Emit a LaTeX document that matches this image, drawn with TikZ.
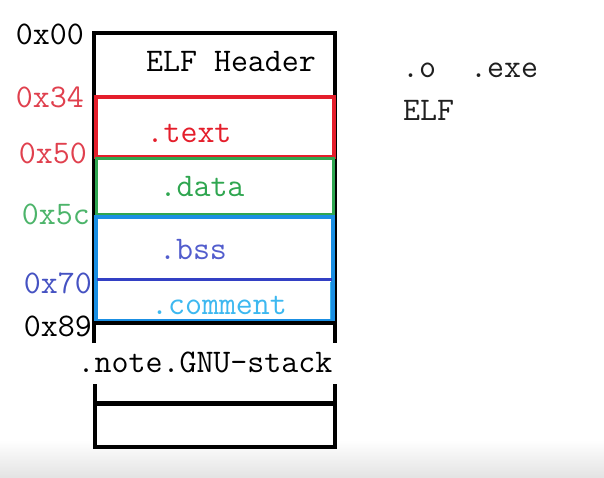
\documentclass[tikz,border=0pt]{standalone}
\usepackage{xcolor}
\usetikzlibrary{positioning}
\definecolor{secred}{HTML}{E41E2B}
\definecolor{lblred}{HTML}{E0404E}
\definecolor{secgreen}{HTML}{2FA650}
\definecolor{lblgreen}{HTML}{4CB46A}
\definecolor{secazure}{HTML}{1A8FE3}
\definecolor{secblue}{HTML}{3340C4}
\definecolor{lblblue}{HTML}{4552C2}
\definecolor{seccyan}{HTML}{3DB8F0}

\begin{document}
\begin{tikzpicture}[x=1pt, y=-1pt,
    lbl/.style={font=\fontsize{33}{35}\selectfont\ttfamily, inner sep=0pt},
    addr/.style={lbl, anchor=east}]
  \useasboundingbox (0,0) rectangle (604,478);
  \shade[top color=white, bottom color=gray!22] (0,440) rectangle (604,478);
  % outer frame
  \draw[line width=4pt] (94,343) -- (94,33) -- (335,33) -- (335,343);
  \draw[line width=1pt] (92,96) -- (92,343);
  % sections
  \draw[secred, line width=4pt] (96,97) rectangle (334,157);
  \draw[secgreen, line width=3pt] (96,159) rectangle (333,215);
  \draw[secazure, line width=4pt] (96,217) rectangle (333,321);
  \draw[seccyan, line width=1pt] (330,282) -- (330,319);
  \draw[secblue, line width=3pt] (97,279) -- (332,279);
  \draw[line width=4pt] (94,323) -- (335,323);
  % last block
  \draw[line width=4pt] (95,384) -- (95,447) -- (335,447) -- (335,384);
  \draw[line width=5pt] (95,403) -- (335,403);
  % section names
  \node[lbl] (hdr) at (231,62) {ELF Header};
  \node[lbl, text=secred] (txt) at (189,133) {.text};
  \node[lbl, text=secgreen] (dat) at (202,187) {.data};
  \node[lbl, text=secblue!85] (bss) at (193,250) {.bss};
  \node[lbl, text=seccyan] (cmt) at (219,305) {.comment};
  \node[lbl] (note) at (205,362) {.note.GNU-stack};
  % offsets
  \node[addr] (a00) at (84,34) {0x00};
  \node[addr, text=lblred] (a34) at (84,97) {0x34};
  \node[addr, text=lblred] (a50) at (87,153) {0x50};
  \node[addr, text=lblgreen] (a5c) at (90,214) {0x5c};
  \node[addr, text=lblblue] (a70) at (92,283) {0x70};
  \node[addr] (a89) at (92,326) {0x89};
  % file kinds
  \node[lbl, anchor=west, text=black!88] (kinds) at (402,70) {.o\ \ .exe};
  \node[lbl, anchor=west, text=black!88] (elf) at (403,110) {ELF};
\end{tikzpicture}
\end{document}
